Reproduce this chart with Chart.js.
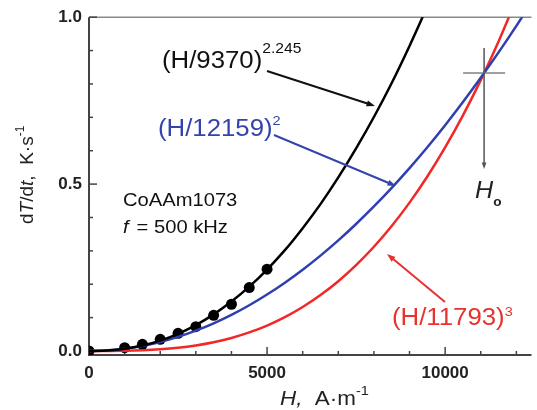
<!DOCTYPE html>
<html>
<head>
<meta charset="utf-8">
<script src="https://cdn.jsdelivr.net/npm/chart.js@4.4.0/dist/chart.umd.min.js"></script>
<style>
    html, body { margin: 0; padding: 0; background: #fff; overflow: hidden; }
</style>
</head>
<body>
<canvas id="myChart" width="537" height="410"></canvas>
<script>
// campo H (A/m) de las curvas de ajuste
const campoH = [0, 500, 1000, 1500, 2000, 2500, 3000, 3500, 4000, 4500, 5000, 5500, 6000,
    6500, 7000, 7500, 8000, 8500, 9000, 9500, 10000, 10500, 11000, 11500, 12000, 12500];

const ajusteNegro = [0, 0.0014, 0.0066, 0.0164, 0.0312, 0.0515, 0.0775, 0.1096, 0.148, 0.1927,
    0.244, 0.302, 0.368, 0.44, 0.52, 0.607, 0.701, 0.803, 0.914, 1.032];
const ajusteAzul = [0, 0.0017, 0.0068, 0.0152, 0.0271, 0.0423, 0.0609, 0.0829, 0.1082, 0.137,
    0.1691, 0.2046, 0.2435, 0.2858, 0.3314, 0.3805, 0.4329, 0.4887, 0.5479, 0.6104, 0.6764,
    0.7457, 0.8184, 0.8945, 0.974, 1.0568];
const ajusteRojo = [0, 0.0001, 0.0006, 0.0021, 0.0049, 0.0095, 0.0165, 0.0261, 0.039, 0.0556,
    0.0762, 0.1014, 0.1317, 0.1675, 0.2091, 0.2572, 0.3122, 0.3745, 0.4445, 0.5228, 0.6098,
    0.7059, 0.8116, 0.9274, 1.0537];

// puntos medidos
const medidosH = [0, 1000, 1500, 2000, 2500, 3000, 3500, 4000, 4500, 5000];
const medidosT = [0, 0.01, 0.02, 0.035, 0.053, 0.073, 0.107, 0.14, 0.19, 0.245];

// H_o: cruce de las curvas azul y roja
const cruceH = 11094;
const cruceT = 0.8325;

const ticksX = [0, 1000, 2000, 3000, 4000, 5000, 6000, 7000, 8000, 9000, 10000, 11000, 12000];
const etiquetasX = [0, 5000, 10000];
const ticksY = [0, 0.1, 0.2, 0.3, 0.4, 0.5, 0.6, 0.7, 0.8, 0.9, 1.0];
const etiquetasY = [0, 0.5, 1.0];

const FUENTE = "Arial, 'Liberation Sans', sans-serif";

const puntos = (xs, ys) => ys.map((y, i) => ({ x: xs[i], y: y }));

function texto(ctx, partes, x, y, color, sx) {
    let cx = x;
    partes.forEach(p => {
        ctx.save();
        ctx.font = p.f;
        ctx.fillStyle = color;
        const w = ctx.measureText(p.t).width * sx;
        ctx.translate(cx, y + (p.dy || 0));
        ctx.scale(sx, 1);
        ctx.fillText(p.t, 0, 0);
        ctx.restore();
        cx += w + (p.gap || 0);
    });
}

function flecha(ctx, x1, y1, x2, y2, color, ancho, tam) {
    const ang = Math.atan2(y2 - y1, x2 - x1);
    ctx.save();
    ctx.strokeStyle = color;
    ctx.fillStyle = color;
    ctx.lineWidth = ancho;
    ctx.beginPath();
    ctx.moveTo(x1, y1);
    ctx.lineTo(x2 - Math.cos(ang) * tam * 0.8, y2 - Math.sin(ang) * tam * 0.8);
    ctx.stroke();
    ctx.beginPath();
    ctx.moveTo(x2, y2);
    ctx.lineTo(x2 - tam * Math.cos(ang - 0.35), y2 - tam * Math.sin(ang - 0.35));
    ctx.lineTo(x2 - tam * Math.cos(ang + 0.35), y2 - tam * Math.sin(ang + 0.35));
    ctx.closePath();
    ctx.fill();
    ctx.restore();
}

const ejes = {
    id: 'ejes',
    beforeDatasetsDraw(chart) {
        const ctx = chart.ctx;
        const { left, right, top, bottom } = chart.chartArea;
        const sx = chart.scales.x, sy = chart.scales.y;
        ctx.save();
        ctx.strokeStyle = '#8a8a8a';
        ctx.lineWidth = 1.5;
        ctx.beginPath();
        ctx.moveTo(left, top);
        ctx.lineTo(right, top);
        ctx.stroke();

        ctx.strokeStyle = '#444';
        ctx.lineWidth = 2;
        ctx.beginPath();
        ctx.moveTo(left, top);
        ctx.lineTo(left, bottom);
        ctx.lineTo(right, bottom);
        ctx.stroke();

        ctx.lineWidth = 1.5;
        ticksY.forEach(v => {
            const y = sy.getPixelForValue(v);
            const largo = etiquetasY.includes(v) ? 8 : 4;
            ctx.beginPath();
            ctx.moveTo(left, y);
            ctx.lineTo(left + largo, y);
            ctx.stroke();
        });
        ticksX.forEach(v => {
            const x = sx.getPixelForValue(v);
            const largo = etiquetasX.includes(v) ? 8 : 4;
            ctx.beginPath();
            ctx.moveTo(x, bottom);
            ctx.lineTo(x, bottom - largo);
            ctx.stroke();
        });
        ctx.restore();
    }
};

const anotaciones = {
    id: 'anotaciones',
    afterDatasetsDraw(chart) {
        const ctx = chart.ctx;
        const sx = chart.scales.x, sy = chart.scales.y;
        const negro = '#111', azul = '#3444ab', rojo = '#e8322e';

        texto(ctx, [{ t: '(H/9370)', f: '23px ' + FUENTE }, { t: '2.245', f: '14px ' + FUENTE, dy: -15 }], 162, 68, negro, 1.12);
        flecha(ctx, 267, 71, 375, 106, negro, 2, 9);

        texto(ctx, [{ t: '(H/12159)', f: '23px ' + FUENTE }, { t: '2', f: '13px ' + FUENTE, dy: -11 }], 158, 136, azul, 1.12);
        flecha(ctx, 274, 135, 396, 186, azul, 2, 9);

        texto(ctx, [{ t: '(H/11793)', f: '23px ' + FUENTE }, { t: '3', f: '13px ' + FUENTE, dy: -9 }], 392, 325, rojo, 1.12);
        flecha(ctx, 445, 302, 387, 254, rojo, 2, 9);

        texto(ctx, [{ t: 'CoAAm1073', f: '18px ' + FUENTE }], 123, 206, negro, 1.12);
        texto(ctx, [{ t: 'f', f: 'italic 18px ' + FUENTE, gap: 8 }, { t: '= 500 kHz', f: '18px ' + FUENTE }], 123, 233, negro, 1.12);

        // cruz en H_o
        const cx = sx.getPixelForValue(cruceH), cy = sy.getPixelForValue(cruceT);
        ctx.save();
        ctx.strokeStyle = '#808080';
        ctx.lineWidth = 1.5;
        ctx.beginPath();
        ctx.moveTo(cx - 21, cy);
        ctx.lineTo(cx + 21, cy);
        ctx.stroke();
        ctx.restore();
        flecha(ctx, cx, cy - 25, cx, cy + 96, '#555', 1.5, 7);
        texto(ctx, [{ t: 'H', f: 'italic 24px ' + FUENTE }, { t: 'o', f: 'bold 13px ' + FUENTE, dy: 8 }], cx - 9, cy + 125, '#222', 1.05);

        // titulos de ejes
        texto(ctx, [{ t: 'H,', f: 'italic 20px ' + FUENTE }, { t: '  A·m', f: '20px ' + FUENTE }, { t: '-1', f: '13px ' + FUENTE, dy: -10 }], 280, 405, '#222', 1.12);

        ctx.save();
        ctx.translate(33, 224);
        ctx.rotate(-Math.PI / 2);
        texto(ctx, [
            { t: 'd', f: '19px ' + FUENTE },
            { t: 'T', f: 'italic 19px ' + FUENTE },
            { t: '/d', f: '19px ' + FUENTE },
            { t: 't', f: 'italic 19px ' + FUENTE },
            { t: ',  K·s', f: '19px ' + FUENTE },
            { t: '-1', f: '12px ' + FUENTE, dy: -9 }
        ], 0, 0, '#222', 1);
        ctx.restore();
    }
};

const ctx = document.getElementById('myChart').getContext('2d');
new Chart(ctx, {
    type: 'line',
    data: {
        datasets: [
            {
                data: puntos(campoH, ajusteNegro),
                borderColor: '#000',
                borderWidth: 2.5,
                pointRadius: 0,
                cubicInterpolationMode: 'monotone'
            },
            {
                data: puntos(campoH, ajusteAzul),
                borderColor: '#2f3fb0',
                borderWidth: 2.5,
                pointRadius: 0,
                cubicInterpolationMode: 'monotone'
            },
            {
                data: puntos(campoH, ajusteRojo),
                borderColor: '#f02828',
                borderWidth: 2.5,
                pointRadius: 0,
                cubicInterpolationMode: 'monotone'
            },
            {
                data: puntos(medidosH, medidosT),
                showLine: false,
                pointRadius: 5.5,
                pointBackgroundColor: '#000',
                pointBorderColor: '#000',
                pointBorderWidth: 0
            }
        ]
    },
    options: {
        responsive: false,
        animation: false,
        layout: { padding: { top: 17, right: 0, left: 0, bottom: 0 } },
        plugins: {
            legend: { display: false },
            tooltip: { enabled: false }
        },
        scales: {
            x: {
                type: 'linear',
                min: 0,
                max: 12425,
                afterFit: s => { s.height = 55; },
                afterBuildTicks: s => { s.ticks = etiquetasX.map(v => ({ value: v })); },
                grid: { display: false, drawTicks: false },
                border: { display: false },
                ticks: {
                    padding: 8,
                    color: '#222',
                    maxRotation: 0,
                    autoSkip: false,
                    font: { family: FUENTE, size: 17, weight: 'bold' },
                    callback: v => String(v)
                }
            },
            y: {
                min: -0.012,
                max: 1.0,
                afterFit: s => { s.width = 89; },
                afterBuildTicks: s => { s.ticks = etiquetasY.map(v => ({ value: v })); },
                grid: { display: false, drawTicks: false },
                border: { display: false },
                ticks: {
                    padding: 7,
                    color: '#222',
                    autoSkip: false,
                    font: { family: FUENTE, size: 17, weight: 'bold' },
                    callback: v => Number(v).toFixed(1)
                }
            }
        }
    },
    plugins: [ejes, anotaciones]
});
</script>
</body>
</html>
